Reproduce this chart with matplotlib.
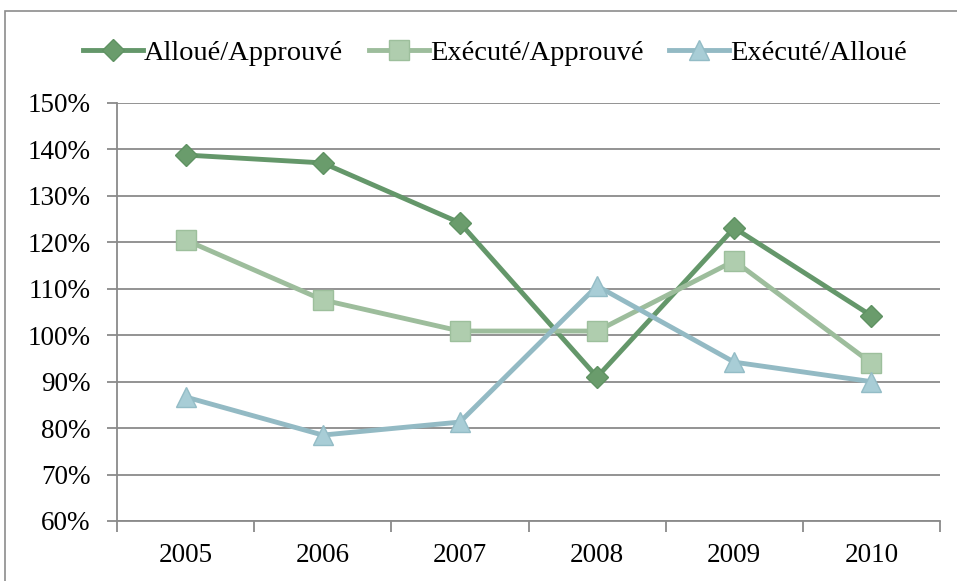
import matplotlib.pyplot as plt
from matplotlib.patches import Rectangle
from matplotlib.ticker import FuncFormatter, MultipleLocator

# values (percent)
years = ["2005", "2006", "2007", "2008", "2009", "2010"]
alloue_approuve = [138.8, 137.1, 124.2, 91.0, 123.1, 104.2]
execute_approuve = [120.5, 107.6, 100.9, 100.9, 116.0, 94.0]
execute_alloue = [86.7, 78.5, 81.3, 110.6, 94.2, 90.0]

plt.rcParams["font.family"] = ["Liberation Serif", "DejaVu Serif"]

fig = plt.figure(figsize=(9.57, 5.81), dpi=100)
ax = fig.add_axes([117 / 957, 60 / 581, 823 / 957, 418 / 581])

# chart frame
fig.patches.append(Rectangle((5 / 957, -0.05), 1.1, 1 - 11 / 581 + 0.05,
                             transform=fig.transFigure, fill=False,
                             edgecolor="#8c8c8c", linewidth=1.2))

x = range(len(years))
ax.plot(x, alloue_approuve, color="#64976a", linewidth=3.5, marker="D",
        markersize=11.5, markerfacecolor="#6a9c6c", markeredgecolor="#5f9262",
        label="Alloué/Approuvé", zorder=3)
ax.plot(x, execute_approuve, color="#9dbd9c", linewidth=3.5, marker="s",
        markersize=14, markerfacecolor="#afcdae", markeredgecolor="#9dbf9c",
        label="Exécuté/Approuvé", zorder=3)
ax.plot(x, execute_alloue, color="#93bac4", linewidth=3.5, marker="^",
        markersize=15, markerfacecolor="#a8cdd6", markeredgecolor="#93bcc6",
        label="Exécuté/Alloué", zorder=3)

ax.set_xlim(-0.5, len(years) - 0.5)
ax.set_ylim(60, 150)
ax.yaxis.set_major_locator(MultipleLocator(10))
ax.yaxis.set_major_formatter(FuncFormatter(lambda v, p: f"{v:.0f}%"))
ax.grid(axis="y", color="#8a8a8a", linewidth=1.3)
ax.set_axisbelow(True)

ax.set_xticks(list(x))
ax.set_xticklabels(years)
ax.set_xticks([i - 0.5 for i in range(len(years) + 1)], minor=True)
ax.tick_params(axis="x", which="major", length=0, pad=16, labelsize=19.5)
ax.tick_params(axis="x", which="minor", length=8, width=1.3, color="#8a8a8a")
ax.tick_params(axis="y", length=7, width=1.3, color="#8a8a8a", pad=12,
               labelsize=19.5)

for side in ["top", "right"]:
    ax.spines[side].set_visible(False)
for side in ["left", "bottom"]:
    ax.spines[side].set_color("#8a8a8a")
    ax.spines[side].set_linewidth(1.3)

fig.legend(loc="center", bbox_to_anchor=(495 / 957, 1 - 53 / 581), ncol=3,
           frameon=False, fontsize=20.5, handlelength=2.1, handletextpad=0.05,
           columnspacing=0.9)

fig.savefig("out.png", dpi=100)
